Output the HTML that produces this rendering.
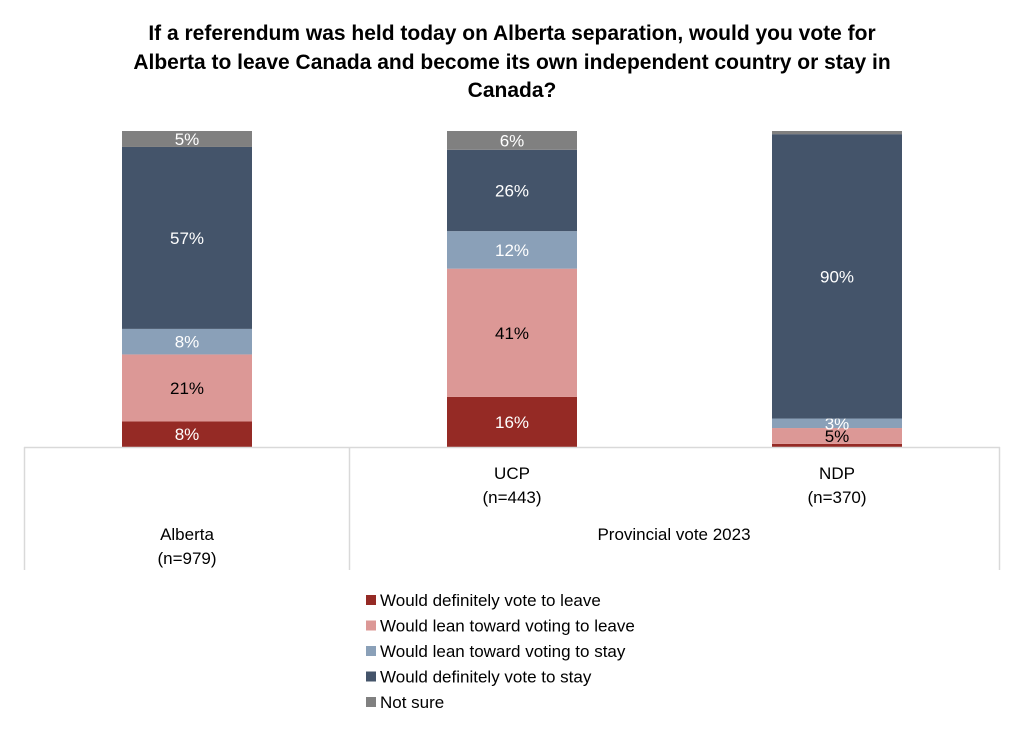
<!DOCTYPE html>
<html><head><meta charset="utf-8"><style>
body{margin:0;background:#fff;font-family:"Liberation Sans",sans-serif}
text{font-family:"Liberation Sans",sans-serif}
</style></head><body>
<svg width="1024" height="731">
<g font-size="21" font-weight="bold" text-anchor="middle" fill="#000">
<text x="512" y="40">If a referendum was held today on Alberta separation, would you vote for</text>
<text x="512" y="69">Alberta to leave Canada and become its own independent country or stay in</text>
<text x="512" y="97">Canada?</text>
</g>
<g id="bars"></g>
<g stroke="#d9d9d9" stroke-width="1.5">
<line x1="24" y1="447.5" x2="1000" y2="447.5"/>
<line x1="24.5" y1="447" x2="24.5" y2="570"/>
<line x1="349.5" y1="447" x2="349.5" y2="570"/>
<line x1="999.5" y1="447" x2="999.5" y2="570"/>
</g>
<g font-size="17" fill="#000" text-anchor="middle">
<text x="512" y="479">UCP</text>
<text x="512" y="503">(n=443)</text>
<text x="837" y="479">NDP</text>
<text x="837" y="503">(n=370)</text>
<text x="187" y="540">Alberta</text>
<text x="187" y="564">(n=979)</text>
<text x="674" y="540">Provincial vote 2023</text>
</g>
<g id="legend" font-size="17"></g>
</svg>
<script>
const categories=["Alberta","UCP","NDP"];
const seriesNames=["Would definitely vote to leave","Would lean toward voting to leave","Would lean toward voting to stay","Would definitely vote to stay","Not sure"];
const colors=["#952a25","#dc9896","#8aa0b8","#44546a","#808080"];
const leaveDef=[8,16,1];
const leaveLean=[21,41,5];
const stayLean=[8,12,3];
const stayDef=[57,26,90];
const notSure=[5,6,1];
const labelColors=["#fff","#000","#fff","#fff","#fff"];
const series=[leaveDef,leaveLean,stayLean,stayDef,notSure];
const NS="http://www.w3.org/2000/svg";
const top0=131,bot=447,bw=130;
const xc=i=>187+i*325;
const g=document.getElementById('bars');
categories.forEach((c,i)=>{
  const tot=series.reduce((a,s)=>a+s[i],0);
  const y=v=>(bot-top0)*v/tot;
  let cum=0;
  series.forEach((s,k)=>{
    const h=y(s[i]);const y1=bot-y(cum+s[i]);
    const r=document.createElementNS(NS,'rect');
    
    
    r.setAttribute('x',xc(i)-bw/2);r.setAttribute('y',y1);r.setAttribute('width',bw);r.setAttribute('height',h);r.setAttribute('fill',colors[k]);
    g.appendChild(r);
    if(s[i]>=2){
      const t=document.createElementNS(NS,'text');
      
      
      t.setAttribute('x',xc(i));t.setAttribute('y',y1+h/2+6);t.setAttribute('text-anchor','middle');
      t.setAttribute('font-size','17');t.setAttribute('fill',labelColors[k]);
      t.textContent=s[i]+'%';g.appendChild(t);
    }
    cum+=s[i];
  });
});
const lg=document.getElementById('legend');
seriesNames.forEach((n,k)=>{
  const yy=600+k*25.5;
  const r=document.createElementNS(NS,'rect');
  
  
  r.setAttribute('x',366);r.setAttribute('y',yy-5);r.setAttribute('width',10);r.setAttribute('height',10);r.setAttribute('fill',colors[k]);
  lg.appendChild(r);
  const t=document.createElementNS(NS,'text');
  
  
  t.setAttribute('x',380);t.setAttribute('y',yy+6);t.textContent=n;lg.appendChild(t);
});
</script>
</body></html>
